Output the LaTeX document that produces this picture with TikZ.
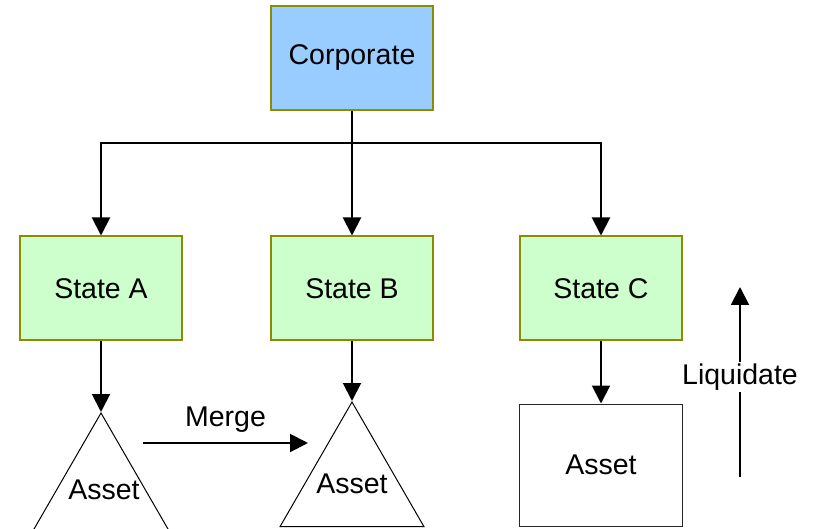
\documentclass[tikz,border=0pt]{standalone}
\usepackage{fontspec}
\setmainfont{Liberation Sans}
\usetikzlibrary{arrows.meta,shapes.geometric}
\definecolor{corpfill}{HTML}{99CCFF}
\definecolor{statefill}{HTML}{CCFFCC}
\definecolor{olivebd}{HTML}{8C8C00}
\begin{document}
\begin{tikzpicture}[x=1pt,y=-1pt,
  font=\fontsize{28.5}{32}\selectfont,
  box/.style={draw=olivebd,line width=2pt,minimum width=162pt,minimum height=104pt,inner sep=0pt},
  corpbox/.style={box,fill=corpfill},
  statebox/.style={box,fill=statefill},
  assetbox/.style={draw=black!85,line width=1pt,minimum width=163pt,minimum height=122pt,inner sep=0pt},
  assettri/.style={draw=black,line width=1pt,regular polygon,regular polygon sides=3,minimum size=166pt,inner sep=0pt},
  conn/.style={line width=2pt,-{Triangle[length=18pt,width=18pt]}},
  plain/.style={line width=2pt}]
  \path[use as bounding box,clip] (0,0) rectangle (814,529);

  % hierarchy boxes
  \node[corpbox] (corp) at (352,58) {Corporate};
  \node[statebox] (stA) at (101,288.5) {State A};
  \node[statebox] (stB) at (352,288.5) {State B};
  \node[statebox] (stC) at (601,288.5) {State C};

  % assets held by each state
  \node[assettri] (asA) at (101,496) {};
  \node at (104,490) {Asset};
  \node[assettri] (asB) at (352,485) {};
  \node at (352,484) {Asset};
  \node[assetbox] (asC) at (601,465) {Asset};

  % corporate to states
  \draw[plain] (corp.south) -- ++(0,32) coordinate (j);
  \draw[conn] (j) -| (stA.north);
  \draw[conn] (j) -- (stB.north);
  \draw[conn] (j) -| (stC.north);

  % states to assets
  \draw[conn] (stA.south) -- (asA.corner 1);
  \draw[conn] (stB.south) -- (asB.corner 1);
  \draw[conn] (stC.south) -- (asC.north);

  % merge
  \coordinate (mS) at (143,443);
  \coordinate (mE) at (308,443);
  \draw[conn] (mS) -- (mE) node[midway,above=6pt] (mergelbl) {Merge};

  % liquidate
  \coordinate (lS) at (740,477);
  \coordinate (lE) at (740,287);
  \draw[conn] (lS) -- (lE);
  \node[fill=white,inner sep=2pt] (liqlbl) at (740,377) {Liquidate};
\end{tikzpicture}
\end{document}
